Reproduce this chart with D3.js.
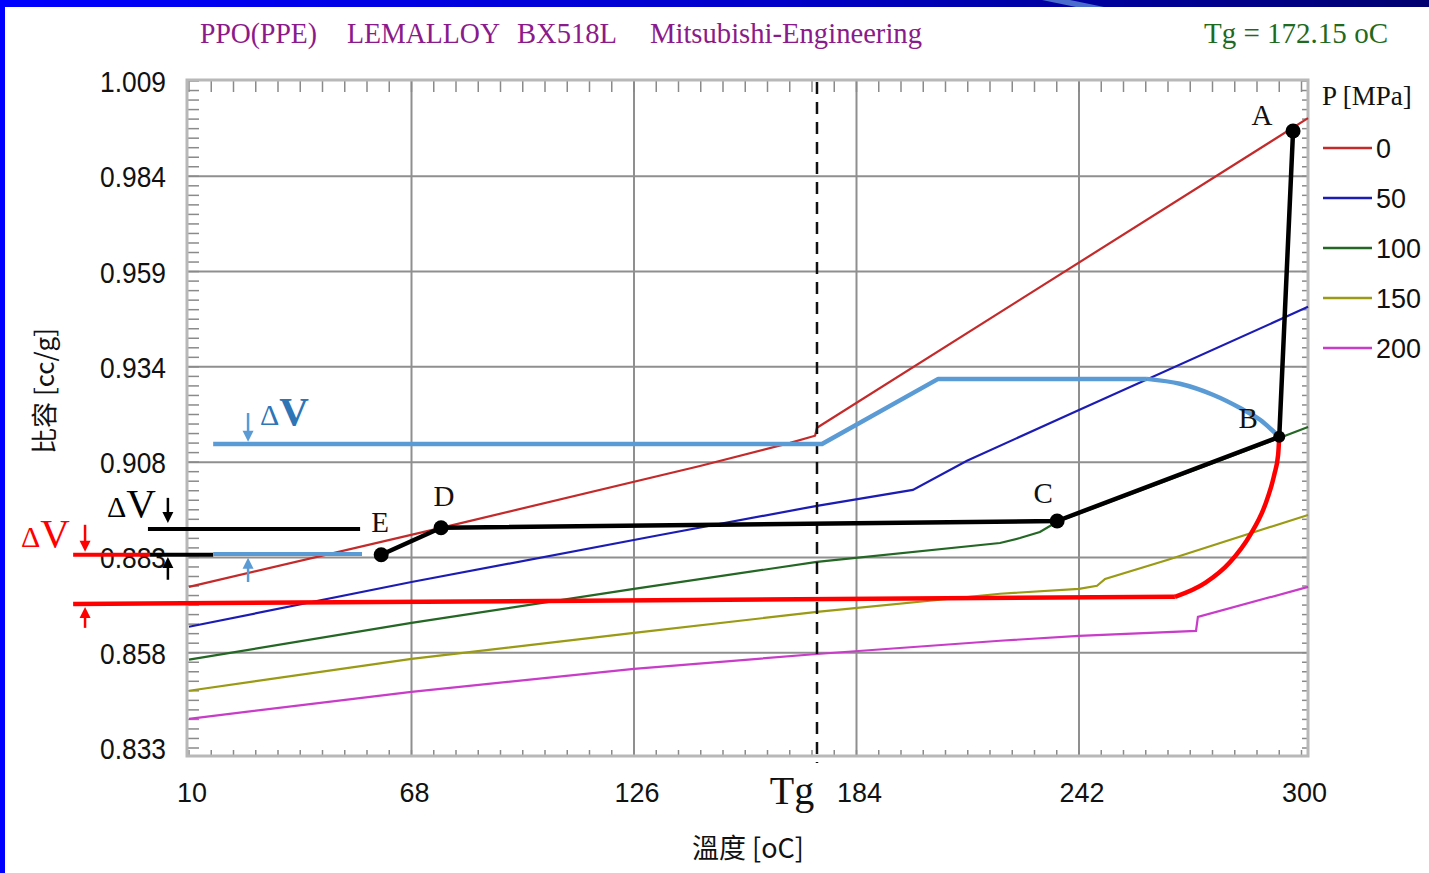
<!DOCTYPE html>
<html>
<head>
<meta charset="utf-8">
<script src="https://cdn.jsdelivr.net/npm/d3@7"></script>
<style>
body { margin: 0; background: #fff; }
svg { display: block; }
</style>
</head>
<body>
<script>
// dimensions
const width = 1429;
const height = 873;

// axis ticks
const xTicks = [10, 68, 126, 184, 242, 300];
const yTicks = [0.833, 0.85814, 0.88329, 0.90843, 0.93357, 0.95871, 0.98386, 1.009];
const yTickLabels = ["0.833", "0.858", "0.883", "0.908", "0.934", "0.959", "0.984", "1.009"];

// PVT curves, [temperature oC, specific volume cc/g]
const pressures = ["0", "50", "100", "150", "200"];
const curveColors = ["#c42a2a", "#1c1cb4", "#246624", "#9a9a14", "#c83cc8"];
const curve0 = [[10, 0.8755], [75.7, 0.8911], [143.2, 0.9074], [166.7, 0.9135], [173.2, 0.9154], [173.7, 0.9175], [301.7, 0.9992]];
const curve50 = [[10, 0.8650], [68, 0.8768], [132.8, 0.8892], [173.7, 0.8969], [198.7, 0.9011], [212.8, 0.9088], [242, 0.9222], [301.7, 0.9494]];
const curve100 = [[10, 0.8563], [68, 0.8660], [126, 0.8750], [173.7, 0.8821], [221.4, 0.8871], [226.6, 0.8884], [231.8, 0.8900], [236.3, 0.8927], [294.2, 0.9148], [301.7, 0.9177]];
const curve150 = [[10, 0.8481], [68, 0.8565], [126, 0.8634], [173.7, 0.8689], [221.4, 0.8737], [242, 0.8750], [246.7, 0.8758], [248.8, 0.8776], [265, 0.8826], [301.7, 0.8945]];
const curve200 = [[10, 0.8407], [68, 0.8478], [126, 0.8539], [173.7, 0.8578], [221.4, 0.8613], [242, 0.8626], [272.5, 0.8639], [273.0, 0.8676], [301.7, 0.8755]];
const curves = [curve0, curve50, curve100, curve150, curve200];

// glass transition marker
const tgValue = 173.7;

// process path A-B-C-D-E
const pointNames = ["A", "B", "C", "D", "E"];
const processPoints = [[297.8, 0.9958], [294.2, 0.9151], [236.3, 0.8929], [75.7, 0.8911], [60.1, 0.8840]];

// blue (thick) reference path
const blueStraight = [[16.3, 0.9132], [175.0, 0.9132], [205.3, 0.9304], [259.7, 0.9304]];
const blueArc = [[259.7, 0.9304], [268.3, 0.9291], [276.9, 0.9262], [284.0, 0.9227], [289.2, 0.9196], [292.3, 0.9169], [294.2, 0.9151]];

// red (thick) reference path
const redStraight = [[-20.2, 0.8710], [267.0, 0.8729]];
const redArc = [[267.0, 0.8729], [274.9, 0.8766], [281.4, 0.8821], [286.6, 0.8892], [290.5, 0.8971], [292.9, 0.9051], [293.9, 0.9103], [294.2, 0.9151]];

// short horizontal delta-V references at left
const refLines = [
    { pts: [[-0.7, 0.8908], [54.6, 0.8908]], color: "#000" },
    { pts: [[-20.2, 0.8840], [-0.2, 0.8840]], color: "#ff0000" },
    { pts: [[-0.2, 0.8840], [16.3, 0.8840]], color: "#000" },
    { pts: [[16.3, 0.8842], [55.1, 0.8842]], color: "#5b9bd5" }
];

// arrows [temperature, from v, to v]
const arrows = [
    { t: 25.4, v0: 0.9214, v1: 0.9138, color: "#5b9bd5" },
    { t: 25.4, v0: 0.8768, v1: 0.8832, color: "#5b9bd5" },
    { t: 4.5, v0: 0.8990, v1: 0.8924, color: "#000" },
    { t: 4.5, v0: 0.8774, v1: 0.8834, color: "#000" },
    { t: -17.1, v0: 0.8919, v1: 0.8848, color: "#ff0000" },
    { t: -17.1, v0: 0.8647, v1: 0.8702, color: "#ff0000" }
];

// delta V labels
const deltaLabels = [
    { t: 28.5, v: 0.9183, color: "#2e75b6", bold: true },
    { t: -11.4, v: 0.8940, color: "#000", bold: false },
    { t: -33.8, v: 0.8861, color: "#ff0000", bold: false }
];

const x = d3.scaleLinear().domain([10, 300]).range([189, 1301.5]);
const y = d3.scaleLinear().domain([0.833, 1.009]).range([748, 81]);

// plot frame (a little bigger than the data range)
const frame = { left: 187, top: 80, right: 1308, bottom: 756 };

let svg = d3.select("body")
    .append("svg")
    .attr("width", width)
    .attr("height", height);

// slide background: blue strip on the left, gradient band on top
let defs = svg.append("defs");
let grad = defs.append("linearGradient").attr("id", "band");
grad.append("stop").attr("offset", "0%").attr("stop-color", "#0000ff");
grad.append("stop").attr("offset", "55%").attr("stop-color", "#0000c8");
grad.append("stop").attr("offset", "100%").attr("stop-color", "#000070");
svg.append("rect").attr("x", 0).attr("y", 0).attr("width", width).attr("height", 7).attr("fill", "url(#band)");
svg.append("polygon").attr("points", "1042,0 1070,0 1104,7 1076,7").attr("fill", "#4a6ccc");
svg.append("rect").attr("x", 0).attr("y", 0).attr("width", 5).attr("height", height).attr("fill", "#0000ff");

// grid lines
svg.selectAll(".vgrid")
    .data(xTicks.slice(1, -1))
    .enter()
    .append("line")
    .attr("x1", d => x(d)).attr("x2", d => x(d))
    .attr("y1", frame.top).attr("y2", frame.bottom)
    .attr("stroke", "#8f8f8f").attr("stroke-width", 2);

svg.selectAll(".hgrid")
    .data(yTicks.slice(1, -1))
    .enter()
    .append("line")
    .attr("x1", frame.left).attr("x2", frame.right)
    .attr("y1", d => y(d)).attr("y2", d => y(d))
    .attr("stroke", "#8f8f8f").attr("stroke-width", 2);

// minor ticks, ten per major step
const xMinor = d3.range(0, 51).map(i => 10 + i * 5.8);
const yMinor = d3.range(0, 71).map(i => 0.833 + i * 0.176 / 70);

let ticks = svg.append("g").attr("stroke", "#8a8a8a").attr("stroke-width", 1.5);
xMinor.forEach(function(d) {
    ticks.append("line").attr("x1", x(d)).attr("x2", x(d)).attr("y1", frame.top).attr("y2", frame.top + 12);
    ticks.append("line").attr("x1", x(d)).attr("x2", x(d)).attr("y1", frame.bottom).attr("y2", frame.bottom - 6);
});
yMinor.forEach(function(d) {
    ticks.append("line").attr("x1", frame.left).attr("x2", frame.left + 12).attr("y1", y(d)).attr("y2", y(d));
    ticks.append("line").attr("x1", frame.right).attr("x2", frame.right - 6).attr("y1", y(d)).attr("y2", y(d));
});

// frame
svg.append("rect")
    .attr("x", frame.left).attr("y", frame.top)
    .attr("width", frame.right - frame.left).attr("height", frame.bottom - frame.top)
    .attr("fill", "none").attr("stroke", "#b8b8b8").attr("stroke-width", 3);

// axis labels
svg.selectAll(".ylab")
    .data(yTicks)
    .enter()
    .append("text")
    .attr("x", 166)
    .attr("y", d => y(d) + 11)
    .attr("text-anchor", "end")
    .attr("textLength", 66)
    .attr("lengthAdjust", "spacingAndGlyphs")
    .style("font-family", "Liberation Sans, Arial, sans-serif")
    .style("font-size", "29px")
    .attr("fill", "#111")
    .text((d, i) => yTickLabels[i]);

svg.selectAll(".xlab")
    .data(xTicks)
    .enter()
    .append("text")
    .attr("x", d => x(d) + 3)
    .attr("y", 802)
    .attr("text-anchor", "middle")
    .attr("textLength", d => String(d).length * 15)
    .attr("lengthAdjust", "spacingAndGlyphs")
    .style("font-family", "Liberation Sans, Arial, sans-serif")
    .style("font-size", "28px")
    .attr("fill", "#111")
    .text(d => d);

svg.append("text")
    .attr("x", x(tgValue) - 25).attr("y", 804)
    .attr("text-anchor", "middle")
    .style("font-family", "Liberation Serif, Times New Roman, serif")
    .style("font-size", "40px")
    .attr("fill", "#111")
    .text("Tg");

svg.append("text")
    .attr("x", 748).attr("y", 858)
    .attr("text-anchor", "middle")
    .style("font-family", "Noto Sans CJK TC, sans-serif")
    .style("font-size", "27px")
    .attr("fill", "#111")
    .text("溫度 [oC]");

svg.append("text")
    .attr("transform", "translate(54,391) rotate(-90)")
    .attr("text-anchor", "middle")
    .style("font-family", "Noto Sans CJK TC, sans-serif")
    .style("font-size", "26px")
    .attr("fill", "#111")
    .text("比容 [cc/g]");

// title
const titleParts = [
    { text: "PPO(PPE)", x: 200, w: 117 },
    { text: "LEMALLOY", x: 347, w: 153 },
    { text: "BX518L", x: 517, w: 100 },
    { text: "Mitsubishi-Engineering", x: 650, w: 272 }
];
svg.selectAll(".title")
    .data(titleParts)
    .enter()
    .append("text")
    .attr("x", d => d.x).attr("y", 43)
    .attr("textLength", d => d.w)
    .attr("lengthAdjust", "spacingAndGlyphs")
    .style("font-family", "Liberation Serif, Times New Roman, serif")
    .style("font-size", "30px")
    .attr("fill", "#8b1a8b")
    .text(d => d.text);

svg.append("text")
    .attr("x", 1204).attr("y", 43)
    .attr("textLength", 184)
    .attr("lengthAdjust", "spacingAndGlyphs")
    .style("font-family", "Liberation Serif, Times New Roman, serif")
    .style("font-size", "30px")
    .attr("fill", "#1e6a1e")
    .text("Tg = 172.15 oC");

// PVT curves
let line = d3.line()
    .x(d => x(d[0]))
    .y(d => y(d[1]));

svg.selectAll(".curve")
    .data(curves)
    .enter()
    .append("path")
    .attr("d", line)
    .attr("fill", "none")
    .attr("stroke", (d, i) => curveColors[i])
    .attr("stroke-width", 2.2);

// legend
svg.append("text")
    .attr("x", 1322).attr("y", 105)
    .style("font-family", "Liberation Serif, Times New Roman, serif")
    .style("font-size", "27px")
    .attr("fill", "#111")
    .text("P [MPa]");

let legend = svg.selectAll(".legend")
    .data(pressures)
    .enter()
    .append("g")
    .attr("transform", (d, i) => "translate(1323," + (148 + i * 50) + ")");
legend.append("line")
    .attr("x1", 0).attr("x2", 49)
    .attr("stroke", (d, i) => curveColors[i])
    .attr("stroke-width", 2.5);
legend.append("text")
    .attr("x", 53).attr("y", 10)
    .attr("textLength", d => d.length * 15)
    .attr("lengthAdjust", "spacingAndGlyphs")
    .style("font-family", "Liberation Sans, Arial, sans-serif")
    .style("font-size", "28px")
    .attr("fill", "#111")
    .text(d => d);

// Tg dashed line
svg.append("line")
    .attr("x1", x(tgValue)).attr("x2", x(tgValue))
    .attr("y1", frame.top + 2).attr("y2", 763)
    .attr("stroke", "#111")
    .attr("stroke-width", 2.5)
    .attr("stroke-dasharray", "12,8");

// thick reference paths
let arcLine = d3.line()
    .x(d => x(d[0]))
    .y(d => y(d[1]))
    .curve(d3.curveMonotoneX);

[[redStraight, line], [redArc, arcLine]].forEach(function(p) {
    svg.append("path").attr("d", p[1](p[0]))
        .attr("fill", "none").attr("stroke", "#ff0000")
        .attr("stroke-width", 4.5).attr("stroke-linejoin", "round");
});
[[blueStraight, line], [blueArc, arcLine]].forEach(function(p) {
    svg.append("path").attr("d", p[1](p[0]))
        .attr("fill", "none").attr("stroke", "#5b9bd5")
        .attr("stroke-width", 4.5).attr("stroke-linejoin", "round");
});

refLines.forEach(function(r) {
    svg.append("path").attr("d", line(r.pts))
        .attr("fill", "none").attr("stroke", r.color)
        .attr("stroke-width", 4);
});

// process path and points
svg.append("path")
    .attr("d", line(processPoints))
    .attr("fill", "none")
    .attr("stroke", "#000")
    .attr("stroke-width", 4.5)
    .attr("stroke-linejoin", "round");

svg.selectAll(".pt")
    .data(processPoints)
    .enter()
    .append("circle")
    .attr("cx", d => x(d[0]))
    .attr("cy", d => y(d[1]))
    .attr("r", (d, i) => i === 1 ? 6 : 7.5)
    .attr("fill", "#000");

const nameOffsets = [[-31, -6], [-31, -9], [-14, -18], [3, -22], [-1, -23]];
svg.selectAll(".ptname")
    .data(processPoints)
    .enter()
    .append("text")
    .attr("x", (d, i) => x(d[0]) + nameOffsets[i][0])
    .attr("y", (d, i) => y(d[1]) + nameOffsets[i][1])
    .attr("text-anchor", "middle")
    .style("font-family", "Liberation Serif, Times New Roman, serif")
    .style("font-size", "29px")
    .attr("fill", "#111")
    .text((d, i) => pointNames[i]);

// arrows
arrows.forEach(function(a) {
    let xa = x(a.t), y0 = y(a.v0), y1 = y(a.v1);
    let dir = y1 > y0 ? 1 : -1;
    svg.append("line")
        .attr("x1", xa).attr("x2", xa)
        .attr("y1", y0).attr("y2", y1 - dir * 8)
        .attr("stroke", a.color).attr("stroke-width", 2.5);
    svg.append("polygon")
        .attr("points", [[xa - 5.5, y1 - dir * 11], [xa + 5.5, y1 - dir * 11], [xa, y1]].join(" "))
        .attr("fill", a.color);
});

// delta V labels
deltaLabels.forEach(function(d) {
    let t = svg.append("text")
        .attr("x", x(d.t)).attr("y", y(d.v))
        .style("font-family", "Liberation Serif, Times New Roman, serif")
        .attr("fill", d.color);
    t.append("tspan").style("font-size", "30px").text("Δ");
    t.append("tspan").style("font-size", "41px")
        .style("font-weight", d.bold ? "bold" : "normal")
        .text("V");
});
</script>
</body>
</html>
